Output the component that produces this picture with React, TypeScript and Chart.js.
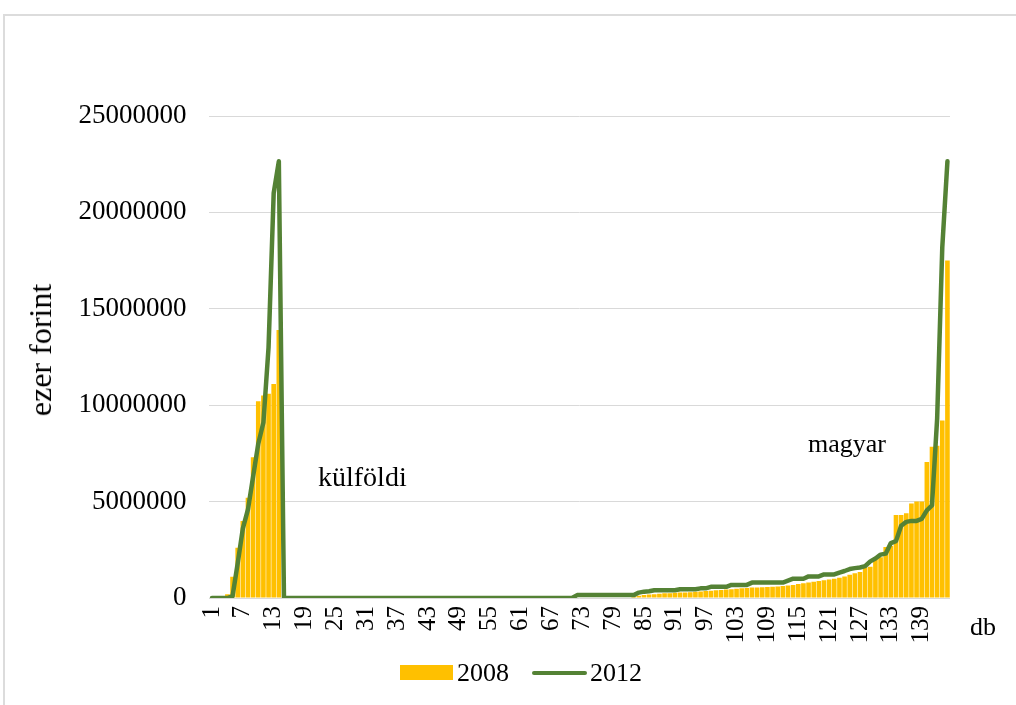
import { useEffect, useRef } from 'react';
import { Chart, registerables } from 'chart.js';

Chart.register(...registerables);

const categories: string[] = Array.from({ length: 144 }, (_, i) => String(i + 1));
const xTickLabels = ['1', '7', '13', '19', '25', '31', '37', '43', '49', '55', '61', '67', '73', '79', '85', '91', '97', '103', '109', '115', '121', '127', '133', '139'];
const yTickValues = [0, 5000000, 10000000, 15000000, 20000000, 25000000];

const values2008 = [
  0, 0, 0, 200000, 1100000, 2600000, 4000000, 5200000, 7300000, 10200000,
  10500000, 10600000, 11100000, 13900000, 0, 0, 0, 0, 0, 0,
  0, 0, 0, 0, 0, 0, 0, 0, 0, 0,
  0, 0, 0, 0, 0, 0, 0, 0, 0, 0,
  0, 0, 0, 0, 0, 0, 0, 0, 0, 0,
  0, 0, 0, 0, 0, 0, 0, 0, 0, 0,
  0, 0, 0, 0, 0, 0, 0, 0, 0, 0,
  0, 0, 0, 0, 0, 0, 0, 0, 0, 0,
  0, 0, 80000, 120000, 150000, 180000, 200000, 220000, 240000, 250000,
  270000, 280000, 290000, 300000, 320000, 340000, 360000, 380000, 400000, 420000,
  440000, 460000, 480000, 500000, 520000, 540000, 550000, 560000, 570000, 580000,
  600000, 620000, 650000, 680000, 720000, 760000, 800000, 840000, 880000, 920000,
  960000, 1000000, 1050000, 1120000, 1200000, 1280000, 1350000, 1600000, 1620000, 2100000,
  2120000, 2650000, 2700000, 4300000, 4300000, 4400000, 4900000, 5000000, 5000000, 7050000,
  7850000, 7900000, 9200000, 17500000,
];

const values2012 = [
  0, 0, 0, 0, 100000, 1800000, 3600000, 4600000, 6300000, 8000000,
  9100000, 13000000, 21000000, 22650000, 0, 0, 0, 0, 0, 0,
  0, 0, 0, 0, 0, 0, 0, 0, 0, 0,
  0, 0, 0, 0, 0, 0, 0, 0, 0, 0,
  0, 0, 0, 0, 0, 0, 0, 0, 0, 0,
  0, 0, 0, 0, 0, 0, 0, 0, 0, 0,
  0, 0, 0, 0, 0, 0, 0, 0, 0, 0,
  0, 150000, 150000, 150000, 150000, 150000, 150000, 150000, 150000, 150000,
  150000, 150000, 150000, 280000, 330000, 350000, 400000, 400000, 400000, 400000,
  400000, 450000, 450000, 450000, 450000, 500000, 500000, 580000, 580000, 580000,
  580000, 680000, 680000, 680000, 680000, 800000, 800000, 800000, 800000, 800000,
  800000, 800000, 900000, 1000000, 1000000, 1000000, 1120000, 1120000, 1120000, 1220000,
  1220000, 1220000, 1320000, 1400000, 1500000, 1550000, 1580000, 1650000, 1900000, 2050000,
  2250000, 2300000, 2850000, 2950000, 3750000, 3950000, 4000000, 4000000, 4100000, 4550000,
  4800000, 9300000, 18200000, 22650000,
];

const YELLOW = '#FFC000';
const GREEN = '#548235';
const FONT = "'Liberation Serif', 'Times New Roman', serif";

export default function App() {
  const ref = useRef<HTMLCanvasElement>(null);

  useEffect(() => {
    if (!ref.current) return;
    const chart = new Chart(ref.current, {
      type: 'bar',
      data: {
        labels: categories,
        datasets: [
          {
            type: 'line',
            label: '2012',
            data: values2012,
            borderColor: GREEN,
            backgroundColor: GREEN,
            borderWidth: 4.5,
            pointRadius: 0,
            tension: 0,
            borderJoinStyle: 'round',
            borderCapStyle: 'round',
            order: 1,
          } as any,
          {
            type: 'bar',
            label: '2008',
            data: values2008,
            backgroundColor: YELLOW,
            barPercentage: 0.9,
            categoryPercentage: 1,
            order: 2,
          },
        ],
      },
      options: {
        responsive: false,
        animation: false,
        layout: { padding: { left: 0, top: 116, right: 66, bottom: 0 } },
        plugins: { legend: { display: false }, tooltip: { enabled: false } },
        scales: {
          x: {
            offset: true,
            grid: { display: false, drawTicks: false },
            border: { display: false },
            ticks: {
              autoSkip: false,
              minRotation: 90,
              maxRotation: 90,
              padding: 8,
              color: '#000',
              font: { family: FONT, size: 25 },
              callback: (_v: any, i: number) => (xTickLabels.includes(categories[i]) ? categories[i] : ''),
            },
            afterFit: (a: any) => {
              a.height = 107;
            },
          },
          y: {
            min: 0,
            max: 25000000,
            afterBuildTicks: (a: any) => {
              a.ticks = yTickValues.map((v) => ({ value: v }));
            },
            ticks: {
              padding: 23,
              color: '#000',
              font: { family: FONT, size: 27 },
              callback: (v: any) => String(v),
            },
            grid: { color: '#d9d9d9', lineWidth: 1, drawTicks: false },
            border: { display: false },
            afterFit: (a: any) => {
              a.width = 209.4;
            },
          },
        },
      },
    });
    return () => chart.destroy();
  }, []);

  const text: any = { position: 'absolute', fontFamily: FONT, fontSize: 26, lineHeight: '26px', color: '#000', whiteSpace: 'nowrap' };

  return (
    <div style={{ position: 'absolute', left: 0, top: 0, width: 1016, height: 705, overflow: 'hidden', background: '#fff' }}>
      <div style={{ position: 'absolute', left: 3, top: 14, width: 1020, height: 700, borderTop: '2px solid #dcdcdc', borderLeft: '2px solid #dcdcdc' }} />
      <canvas ref={ref} width={1016} height={705} style={{ position: 'absolute', left: 0, top: 0, display: 'block' }} />
      <div style={{ ...text, fontSize: 32, lineHeight: '32px', left: 40, top: 350, transform: 'translate(-50%, -50%) rotate(-90deg)' }}>ezer forint</div>
      <div style={{ ...text, fontSize: 28, lineHeight: '28px', left: 318, top: 463 }}>külföldi</div>
      <div style={{ ...text, left: 808, top: 431 }}>magyar</div>
      <div style={{ ...text, left: 970, top: 614 }}>db</div>
      <div style={{ position: 'absolute', left: 400, top: 665, width: 53, height: 15, background: YELLOW }} />
      <div style={{ ...text, fontSize: 26, left: 457, top: 660 }}>2008</div>
      <div style={{ position: 'absolute', left: 532, top: 671, width: 55, height: 4, borderRadius: 2, background: GREEN }} />
      <div style={{ ...text, fontSize: 26, left: 590, top: 660 }}>2012</div>
    </div>
  );
}
